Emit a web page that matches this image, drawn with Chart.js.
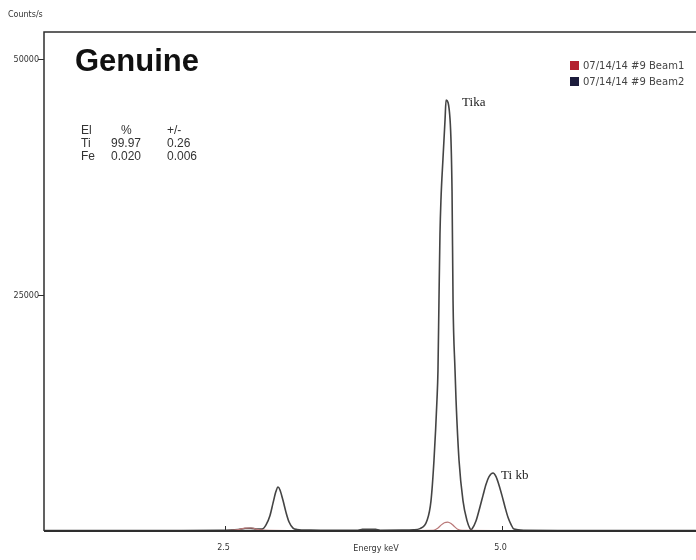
<!DOCTYPE html>
<html>
<head>
<meta charset="utf-8">
<title>Genuine – XRF spectrum</title>
<script src="https://cdn.jsdelivr.net/npm/chart.js@4/dist/chart.umd.min.js"></script>
<style>
  html, body { margin: 0; padding: 0; background: #ffffff; }
  canvas { display: block; }
</style>
</head>
<body>
<canvas id="spectrum" width="696" height="560"></canvas>
<script>
// ---- spectrum data (energy in keV, intensity in counts/s) ----
const beam2Energy = [0.87, 1.50, 2.00, 2.45, 2.62, 2.68, 2.73, 2.78, 2.834, 2.870, 2.906, 2.933, 2.960, 2.978,
  2.996, 3.023, 3.051, 3.078, 3.114, 3.150, 3.27, 3.50, 3.70, 3.74, 3.80, 3.86, 3.90, 4.10, 4.20, 4.260,
  4.323, 4.359, 4.386, 4.413, 4.422, 4.431, 4.440, 4.449, 4.467, 4.486, 4.495, 4.531, 4.549, 4.558, 4.576,
  4.585, 4.612, 4.648, 4.684, 4.711, 4.720, 4.729, 4.765, 4.801, 4.828, 4.856, 4.883, 4.919, 4.946, 4.973,
  5.000, 5.027, 5.054, 5.081, 5.108, 5.20, 5.60, 6.00, 6.40, 6.75];
const beam2Counts = [60, 60, 60, 70, 150, 260, 280, 220, 200, 650, 1650, 2950, 4200, 4660,
  4350, 3250, 1950, 950, 300, 160, 90, 70, 80, 170, 190, 170, 80, 90, 120, 250,
  1100, 3200, 7500, 13900, 17000, 24400, 31400, 35100, 39400, 43600, 45650, 43600, 36000, 24400, 17000,
  13900, 7500, 3200, 1100, 250, 150, 200, 1050, 2550, 3750, 4950, 5750, 6140, 5750, 4850,
  3750, 2550, 1450, 700, 200, 80, 60, 60, 60, 60];

const beam1Energy = [0.87, 2.50, 2.62, 2.68, 2.74, 2.80, 2.90, 3.10, 4.00, 4.38, 4.42, 4.45, 4.48, 4.51,
  4.54, 4.57, 4.60, 4.64, 5.00, 6.75];
const beam1Counts = [40, 40, 150, 300, 320, 150, 60, 50, 50, 80, 300, 620, 880, 950,
  800, 480, 180, 60, 50, 40];

const seriesNames = ['07/14/14 #9 Beam1', '07/14/14 #9 Beam2'];
const energyTicks = [2.5, 5.0];
const energyTickLabels = ['2.5', '5.0'];
const countTicks = [25000, 50000];
const countTickLabels = ['25000', '50000'];

// composition table shown in the upper-left corner
const tableHeader = ['El', '%', '+/-'];
const elements = ['Ti', 'Fe'];
const percents = ['99.97', '0.020'];
const errors = ['0.26', '0.006'];

// emission line labels and the energy of the line each one names
const lineNames = ['Tika', 'Ti kb'];
const lineEnergies = [4.495, 4.919];
const lineLabelGap = [16, 8];   // horizontal gap from peak to label, px

const toPoints = (xs, ys) => xs.map((x, i) => ({ x: x, y: ys[i] }));

const AXIS_FONT = '8px "DejaVu Sans", Verdana, sans-serif';

const decorations = {
  id: 'decorations',
  afterDraw(chart) {
    const ctx = chart.ctx;
    const ca = chart.chartArea;
    const xs = chart.scales.x;
    const ys = chart.scales.y;
    ctx.save();

    // frame
    ctx.strokeStyle = '#2e2e2e';
    ctx.lineWidth = 1.5;
    ctx.beginPath();
    ctx.moveTo(ca.left, ca.bottom);
    ctx.lineTo(ca.left, ca.top);
    ctx.lineTo(ca.right, ca.top);
    ctx.stroke();
    ctx.lineWidth = 2;
    ctx.beginPath();
    ctx.moveTo(ca.left, ca.bottom);
    ctx.lineTo(ca.right, ca.bottom);
    ctx.stroke();

    // y ticks
    ctx.fillStyle = '#333';
    ctx.font = AXIS_FONT;
    ctx.lineWidth = 1;
    countTicks.forEach((v, i) => {
      const y = Math.round(ys.getPixelForValue(v)) + 0.5;
      ctx.beginPath();
      ctx.moveTo(ca.left - 6, y);
      ctx.lineTo(ca.left, y);
      ctx.stroke();
      ctx.textAlign = 'right';
      ctx.textBaseline = 'middle';
      ctx.fillText(countTickLabels[i], ca.left - 5, y);
    });

    // x ticks (inside marks)
    energyTicks.forEach((v, i) => {
      const x = Math.round(xs.getPixelForValue(v)) + 0.5;
      ctx.beginPath();
      ctx.moveTo(x, ca.bottom);
      ctx.lineTo(x, ca.bottom - 5);
      ctx.stroke();
      ctx.textAlign = 'center';
      ctx.textBaseline = 'middle';
      ctx.fillText(energyTickLabels[i], x - 2, ca.bottom + 17);
    });

    // axis titles
    ctx.textAlign = 'center';
    ctx.fillText('Energy keV', 376, ca.bottom + 18);
    ctx.textAlign = 'left';
    ctx.fillText('Counts/s', 8, 15);

    // legend
    ctx.font = '10px "DejaVu Sans", Verdana, sans-serif';
    chart.data.datasets.forEach((ds, i) => {
      const y = 66 + i * 16;
      ctx.fillStyle = ds.legendColor;
      ctx.fillRect(570, y - 5, 9, 9);
      ctx.fillStyle = '#444';
      ctx.textAlign = 'left';
      ctx.textBaseline = 'middle';
      ctx.fillText(ds.label, 583, y);
    });

    // sample title
    ctx.fillStyle = '#111';
    ctx.font = 'bold 31px "Liberation Sans", Arial, sans-serif';
    ctx.textAlign = 'left';
    ctx.textBaseline = 'alphabetic';
    ctx.fillText('Genuine', 75, 71);

    // composition table
    ctx.font = '12px "Liberation Sans Narrow", "Liberation Sans", Arial, sans-serif';
    ctx.fillStyle = '#333';
    ctx.textBaseline = 'middle';
    const cols = [81, 121, 167];
    tableHeader.forEach((t, c) => ctx.fillText(t, cols[c], 131));
    elements.forEach((el, r) => {
      const y = 144 + r * 13;
      ctx.fillText(el, 81, y);
      ctx.fillText(percents[r], 111, y);
      ctx.fillText(errors[r], 167, y);
    });

    // emission line labels placed beside their peaks
    ctx.font = '13px "Liberation Serif", "Times New Roman", serif';
    ctx.fillStyle = '#222';
    lineNames.forEach((text, k) => {
      const e = lineEnergies[k];
      const idx = beam2Energy.indexOf(e);
      const px = xs.getPixelForValue(e);
      const py = ys.getPixelForValue(beam2Counts[idx]);
      ctx.textAlign = 'left';
      ctx.textBaseline = 'middle';
      ctx.fillText(text, px + lineLabelGap[k], py + 3);
    });

    ctx.restore();
  }
};

new Chart(document.getElementById('spectrum'), {
  type: 'line',
  data: {
    datasets: [
      {
        label: seriesNames[0],
        data: toPoints(beam1Energy, beam1Counts),
        borderColor: '#b97777',
        legendColor: '#b3202e',
        borderWidth: 1.2,
        pointRadius: 0,
        cubicInterpolationMode: 'monotone',
        fill: false,
        order: 1
      },
      {
        label: seriesNames[1],
        data: toPoints(beam2Energy, beam2Counts),
        borderColor: '#444444',
        legendColor: '#1c1c3c',
        borderWidth: 1.6,
        pointRadius: 0,
        cubicInterpolationMode: 'monotone',
        fill: false,
        order: 2
      }
    ]
  },
  options: {
    responsive: false,
    animation: false,
    layout: { padding: { left: 44, top: 32, right: 0, bottom: 29 } },
    plugins: { legend: { display: false }, tooltip: { enabled: false } },
    scales: {
      x: { type: 'linear', min: 0.866, max: 6.751, display: false },
      y: { type: 'linear', min: 0, max: 52860, display: false }
    }
  },
  plugins: [decorations]
});
</script>
</body>
</html>
